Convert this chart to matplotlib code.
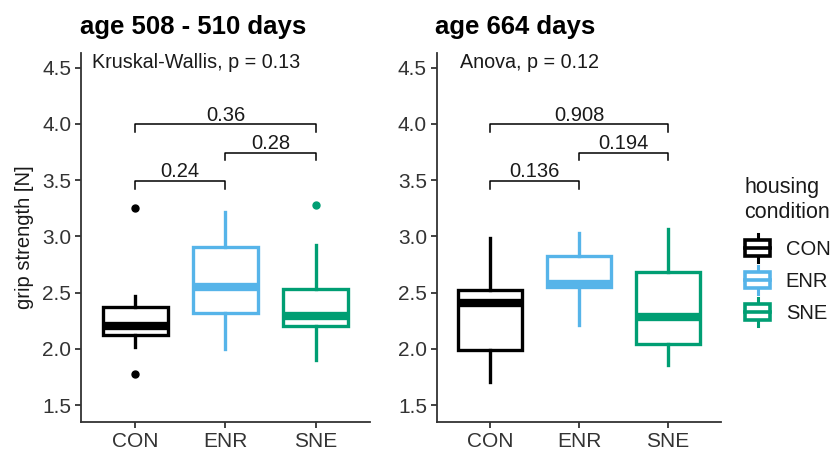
import matplotlib
matplotlib.use("Agg")
import matplotlib.pyplot as plt
from matplotlib.patches import Rectangle
from matplotlib.lines import Line2D
from matplotlib.legend_handler import HandlerBase

plt.rcParams['font.family'] = ['Liberation Sans', 'DejaVu Sans']

categories = ["CON", "ENR", "SNE"]
colors = ["#000000", "#56B4E9", "#009E73"]

# panel 1: age 508 - 510 days
p1_title = "age 508 - 510 days"
p1_test = "Kruskal-Wallis, p = 0.13"
p1_q1 = [2.12, 2.32, 2.20]
p1_med = [2.20, 2.55, 2.29]
p1_q3 = [2.375, 2.91, 2.53]
p1_whislo = [2.02, 2.00, 1.90]
p1_whishi = [2.47, 3.22, 2.92]
p1_fliers = [[3.25, 1.78], [], [3.28]]
p1_pvals = ["0.24", "0.28", "0.36"]

# panel 2: age 664 days
p2_title = "age 664 days"
p2_test = "Anova, p = 0.12"
p2_q1 = [1.99, 2.55, 2.04]
p2_med = [2.41, 2.58, 2.28]
p2_q3 = [2.52, 2.83, 2.68]
p2_whislo = [1.71, 2.21, 1.86]
p2_whishi = [2.99, 3.03, 3.07]
p2_fliers = [[], [], []]
p2_pvals = ["0.136", "0.194", "0.908"]

pairs = [(1, 2), (2, 3), (1, 3)]
bracket_y = [3.49, 3.745, 3.995]

yticks = [1.5, 2.0, 2.5, 3.0, 3.5, 4.0, 4.5]
ylabel = "grip strength [N]"
legend_title = "housing\ncondition"

fig = plt.figure(figsize=(8.35, 4.55), dpi=100)
axes = [fig.add_axes([0.097, 0.0725, 0.346, 0.811]),
        fig.add_axes([0.523, 0.0725, 0.341, 0.811])]

panels = [
    (p1_title, p1_test, p1_q1, p1_med, p1_q3, p1_whislo, p1_whishi, p1_fliers, p1_pvals, 0.52),
    (p2_title, p2_test, p2_q1, p2_med, p2_q3, p2_whislo, p2_whishi, p2_fliers, p2_pvals, 0.66),
]

tick_col = "#333333"
text_col = "#1a1a1a"
box_lw = 2.4
for ax, (title, test, q1, med, q3, wlo, whi, fl, pv, tx) in zip(axes, panels):
    for i in range(3):
        stats = [dict(q1=q1[i], med=med[i], q3=q3[i], whislo=wlo[i], whishi=whi[i], fliers=fl[i])]
        c = colors[i]
        ax.bxp(stats, positions=[i + 1], widths=0.72, showcaps=False, patch_artist=True,
               boxprops=dict(facecolor="white", edgecolor=c, linewidth=box_lw),
               medianprops=dict(color=c, linewidth=box_lw * 2.5, solid_capstyle="butt"),
               whiskerprops=dict(color=c, linewidth=box_lw),
               flierprops=dict(marker="o", markerfacecolor=c, markeredgecolor=c, markersize=5),
               manage_ticks=False)
    ax.set_xlim(0.4, 3.6)
    ax.set_ylim(1.35, 4.63)
    ax.set_xticks([1, 2, 3])
    ax.set_xticklabels(categories)
    ax.set_yticks(yticks)
    ax.set_yticklabels([f"{v:.1f}" for v in yticks])
    for s in ["top", "right"]:
        ax.spines[s].set_visible(False)
    for s in ["left", "bottom"]:
        ax.spines[s].set_linewidth(1.3)
        ax.spines[s].set_color("#333333")
    ax.tick_params(axis="both", labelsize=15, colors=tick_col, length=4, width=1.3, pad=3)
    ax.set_title(title, loc="left", fontsize=18.5, fontweight="bold", pad=14, x=-0.005)
    ax.text(tx, 4.55, test, fontsize=14.2, ha="left", va="center", color=text_col)
    tip = 0.065
    for (a, b), y, lab in zip(pairs, bracket_y, pv):
        ax.plot([a, a, b, b], [y - tip, y, y, y - tip], color="black", lw=1.1)
        ax.text((a + b) / 2, y + 0.035, lab, ha="center", va="baseline", fontsize=14.5, color=text_col)

axes[0].set_ylabel(ylabel, fontsize=14.5, color=text_col, labelpad=6)


class BoxHandler(HandlerBase):
    def create_artists(self, legend, orig_handle, xdescent, ydescent, width, height, fontsize, trans):
        c = orig_handle.get_color()
        cx = -xdescent + width / 2
        bw = width * 0.95
        bh = height * 0.95
        by = -ydescent + (height - bh) / 2
        art = []
        art.append(Line2D([cx, cx], [-ydescent - height * 0.3, -ydescent + height * 1.3],
                          color=c, lw=2.2, transform=trans))
        art.append(Rectangle((cx - bw / 2, by), bw, bh, facecolor="white", edgecolor=c,
                             lw=2.6, transform=trans))
        art.append(Line2D([cx - bw / 2, cx + bw / 2], [by + bh / 2, by + bh / 2],
                          color=c, lw=2.6, transform=trans))
        return art


handles = [Line2D([], [], color=c) for c in colors]
leg = fig.legend(handles, categories, handler_map={Line2D: BoxHandler()},
                 loc="upper left", bbox_to_anchor=(0.882, 0.628), frameon=False,
                 title=legend_title, fontsize=14.5, title_fontsize=15.5, borderaxespad=0,
                 handlelength=1.3, handleheight=0.95, labelspacing=0.62, handletextpad=0.75)
leg._legend_box.align = "left"
leg._legend_box.sep = 12
leg.get_title().set_color(text_col)
for t in leg.get_texts():
    t.set_color(text_col)

fig.savefig("out.png", dpi=100, facecolor="white")
